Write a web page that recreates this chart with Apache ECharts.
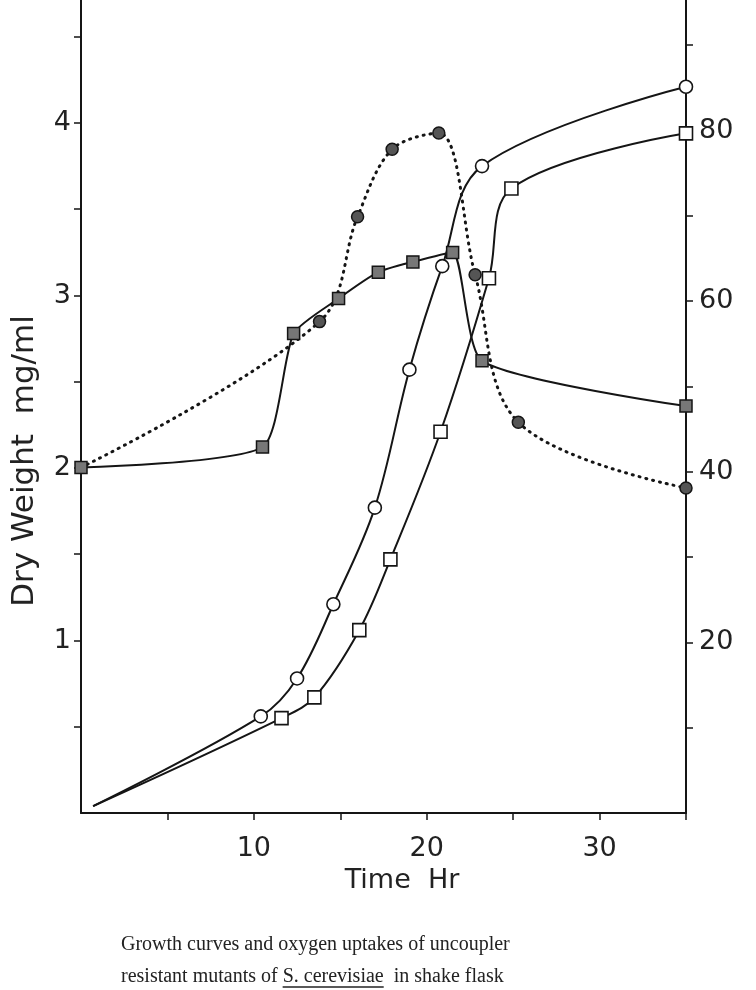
<!DOCTYPE html>
<html>
<head>
<meta charset="utf-8">
<script src="https://cdn.jsdelivr.net/npm/echarts@6/dist/echarts.min.js"></script>
<style>
html, body { margin: 0; padding: 0; background: #fff; }
#chart { width: 756px; height: 990px; }
</style>
</head>
<body>
<div id="chart"></div>
<script>
// dry weight, open circles (first point = start of drawn curve, no marker)
const circTime = [0.7, 10.4, 12.5, 14.6, 17.0, 19.0, 20.9, 23.2, 35.0];
const circDW = [0.04, 0.56, 0.78, 1.21, 1.77, 2.57, 3.17, 3.75, 4.21];
// dry weight, open squares
const sqTime = [0.7, 11.6, 13.5, 16.1, 17.9, 20.8, 23.6, 24.9, 35.0];
const sqDW = [0.04, 0.55, 0.67, 1.06, 1.47, 2.21, 3.10, 3.62, 3.94];
// oxygen uptake, shaded squares (solid line)
const o2sqTime = [0, 10.5, 12.3, 14.9, 17.2, 19.2, 21.5, 23.2, 35.0];
const o2sqVal = [40.5, 42.9, 56.2, 60.3, 63.4, 64.6, 65.7, 53.0, 47.7];
// oxygen uptake, shaded circles (dotted line, branches off the square curve)
const o2cTime = [0, 13.8, 16.0, 18.0, 20.7, 22.8, 25.3, 35.0];
const o2cVal = [40.5, 57.6, 69.9, 77.8, 79.7, 63.1, 45.8, 38.1];

const leftTicks = [0.5, 1, 1.5, 2, 2.5, 3, 3.5, 4, 4.5];
const leftLabels = [1, 2, 3, 4];
const rightTicks = [10, 20, 30, 40, 50, 60, 70, 80, 90];
const rightLabels = [20, 40, 60, 80];
const timeTicks = [5, 10, 15, 20, 25, 30, 35];
const timeLabels = [10, 20, 30];

const ink = '#151515';
const fnt = 'DejaVu Sans';
const capFont = '20px "Liberation Serif"';

function pts(xs, ys, noMark) {
    return xs.map((x, i) => {
        let item = { value: [x, ys[i]] };
        if (noMark && i === 0) item.symbol = 'none';
        return item;
    });
}

// width of caption pieces, for placing the underline
let ctx = document.createElement('canvas').getContext('2d');
ctx.font = capFont;
const capX = 121;
const ulStart = capX + ctx.measureText('resistant mutants of ').width;
const ulEnd = ulStart + ctx.measureText('S. cerevisiae').width;

let chart = echarts.init(document.getElementById('chart'), null, { renderer: 'canvas' });

let axisCommon = {
    type: 'value',
    splitLine: { show: false },
    axisLine: { show: true, lineStyle: { color: ink, width: 2 } },
    axisTick: { show: true, length: 7, lineStyle: { color: ink, width: 1.5 } },
    axisLabel: { color: '#222', fontFamily: fnt, fontSize: 27 }
};

chart.setOption({
    animation: false,
    backgroundColor: '#fff',
    grid: { left: 81, right: 70, top: 0, bottom: 177 },
    xAxis: Object.assign({}, axisCommon, {
        min: 0, max: 35,
        axisTick: Object.assign({}, axisCommon.axisTick, { customValues: timeTicks }),
        axisLabel: Object.assign({}, axisCommon.axisLabel, { margin: 22, customValues: timeLabels })
    }),
    yAxis: [
        Object.assign({}, axisCommon, {
            position: 'left', min: 0, max: 4.713,
            axisTick: Object.assign({}, axisCommon.axisTick, { customValues: leftTicks }),
            axisLabel: Object.assign({}, axisCommon.axisLabel, { margin: 10, customValues: leftLabels })
        }),
        Object.assign({}, axisCommon, {
            position: 'right', min: 0, max: 95.3,
            axisTick: Object.assign({}, axisCommon.axisTick, { customValues: rightTicks }),
            axisLabel: Object.assign({}, axisCommon.axisLabel, { margin: 13, customValues: rightLabels })
        })
    ],
    graphic: [
        { type: 'text', x: 402, y: 881, style: { text: 'Time  Hr', fill: '#222', font: '27px "' + fnt + '"', align: 'center', verticalAlign: 'middle' } },
        { type: 'text', x: 25, y: 461, rotation: Math.PI / 2, style: { text: 'Dry Weight  mg/ml', fill: '#222', font: '31px "' + fnt + '"', align: 'center', verticalAlign: 'middle' } },
        { type: 'text', x: capX, y: 945, style: { text: 'Growth curves and oxygen uptakes of uncoupler', fill: '#222', font: capFont, verticalAlign: 'middle' } },
        { type: 'text', x: capX, y: 977, style: { text: 'resistant mutants of S. cerevisiae  in shake flask', fill: '#222', font: capFont, verticalAlign: 'middle' } },
        { type: 'line', shape: { x1: ulStart, y1: 987, x2: ulEnd, y2: 987 }, style: { stroke: '#222', lineWidth: 1.3 } }
    ],
    series: [
        {
            name: 'DW circles', data: pts(circTime, circDW, true),
            symbol: 'circle', symbolSize: 13,
            itemStyle: { color: '#fff', borderColor: ink, borderWidth: 1.6 }
        },
        {
            name: 'DW squares', data: pts(sqTime, sqDW, true),
            symbol: 'rect', symbolSize: 13,
            itemStyle: { color: '#fff', borderColor: ink, borderWidth: 1.6 }
        },
        {
            name: 'O2 squares', yAxisIndex: 1, data: pts(o2sqTime, o2sqVal, false),
            symbol: 'rect', symbolSize: 12, smooth: 0.2,
            itemStyle: { color: '#777', borderColor: ink, borderWidth: 1.5 }
        },
        {
            name: 'O2 circles', yAxisIndex: 1, data: pts(o2cTime, o2cVal, true),
            symbol: 'circle', symbolSize: 12,
            lineStyle: { type: [1, 6], width: 3, cap: 'round' },
            itemStyle: { color: '#555', borderColor: ink, borderWidth: 1.5 }
        }
    ].map(item => {
        return Object.assign({
            type: 'line', smooth: 0.35, clip: false, showAllSymbol: true, z: 3
        }, item, { lineStyle: Object.assign({ color: ink, width: 2 }, item.lineStyle || {}) });
    })
});
</script>
</body>
</html>
